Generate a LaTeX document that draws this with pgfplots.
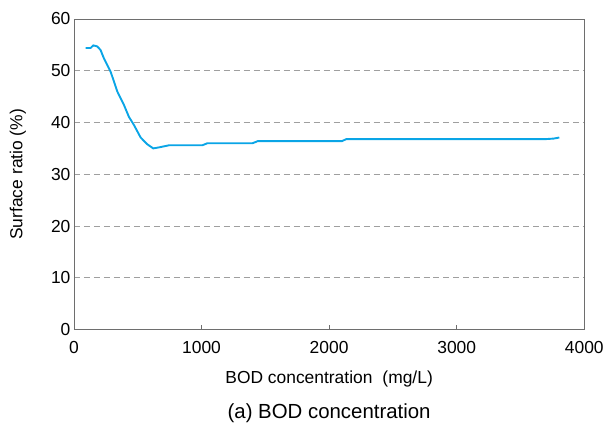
\documentclass[border=0pt]{standalone}
\usepackage{pgfplots}
\pgfplotsset{compat=1.18}
\usepackage{fontspec}
\setmainfont{Liberation Sans}
\definecolor{curve}{RGB}{10,165,230}
\definecolor{frame}{RGB}{110,110,110}
\begin{document}
\begin{tikzpicture}
% keep the page the size of the reference around the axis box
\path (-74bp,-95bp) rectangle (533bp,330bp);
\begin{axis}[
    at={(0,0)}, anchor=south west,
    scale only axis,
    width=511bp,
    height=311bp,
    xmin=0, xmax=4000,
    ymin=0, ymax=60,
    xtick={0,1000,2000,3000,4000},
    ytick={0,10,20,30,40,50,60},
    axis line style={frame, line width=0.8pt},
    xtick style={frame, line width=0.8pt},
    major tick length=5bp,
    tick align=inside,
    xtick pos=bottom,
    ytick style={draw=none},
    ymajorgrids,
    grid style={gray!75, line width=0.8pt, dash pattern=on 6bp off 4bp},
    font=\fontsize{17.5}{20}\selectfont,
    /pgf/number format/assume math mode=true,
    scaled x ticks=false,
    xticklabel style={/pgf/number format/1000 sep={}, anchor=center, yshift=-18bp},
    xlabel={BOD concentration\hspace{10bp}(mg/L)},
    ylabel={Surface ratio (\%)},
    xlabel style={at={(axis description cs:0.5,0)}, anchor=center, yshift=-49bp},
    ylabel style={at={([xshift=-56bp]axis description cs:0,0.5)}, anchor=center},
    clip=false,
]
\addplot[color=curve, line width=1.9pt] coordinates {
    (92,54.4) (131,54.4) (152,54.9) (183,54.7) (209,54.0) (235,52.4)
    (288,49.8) (340,46.0) (392,43.4) (431,41.1) (471,39.5) (523,37.1)
    (575,35.8) (622,35.0) (667,35.2) (745,35.6) (1006,35.6) (1046,36.0)
    (1400,36.0) (1440,36.4) (2100,36.4) (2135,36.8) (3700,36.8)
    (3760,36.9) (3804,37.1)
};
\node[font=\fontsize{20.5}{24}\selectfont, anchor=center] at (rel axis cs:0.5,0) [yshift=-84bp] {(a) BOD concentration};
\end{axis}
\end{tikzpicture}
\end{document}
